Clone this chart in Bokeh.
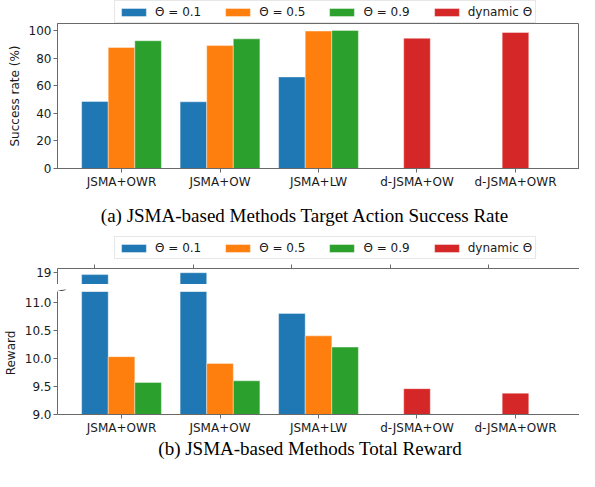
import numpy as np
from bokeh.plotting import figure
from bokeh.models import (ColumnDataSource, Range1d, FixedTicker, Legend,
                          LegendItem, PrintfTickFormatter, Span)
from bokeh.core.properties import value
from bokeh.layouts import column
from bokeh.transform import dodge
from bokeh.embed import file_html
from bokeh.resources import INLINE

# ---------------- data ----------------
categories = ["JSMA+OWR", "JSMA+OW", "JSMA+LW", "d-JSMA+OW", "d-JSMA+OWR"]
series_labels = ["Θ = 0.1", "Θ = 0.5", "Θ = 0.9", "dynamic Θ"]
colors = ["#1f77b4", "#ff7f0e", "#2ca02c", "#d62728"]

success_01 = [48.5, 48.3, 66.3, None, None]
success_05 = [87.6, 89.0, 99.5, None, None]
success_09 = [92.5, 93.9, 100.0, None, None]
success_dyn = [None, None, None, 94.3, 98.5]

reward_01 = [18.96, 19.0, 10.8, None, None]
reward_05 = [10.03, 9.91, 10.40, None, None]
reward_09 = [9.57, 9.60, 10.20, None, None]
reward_dyn = [None, None, None, 9.46, 9.38]

success_ticks = [0, 20, 40, 60, 80, 100]
reward_low_ticks = [9.0, 9.5, 10.0, 10.5, 11.0]
reward_high_ticks = [19]

caption_a = "(a) JSMA-based Methods Target Action Success Rate"
caption_b = "(b) JSMA-based Methods Total Reward"

# ---------------- style ----------------
BAR_W = 0.27
OFFSETS = [-BAR_W, 0.0, BAR_W, 0.0]
SPINE = "#6a6a6a"
TEXT = "#1a1a1a"
FONT = "DejaVu Sans"
FS = "12px"
LEFT = 48
RIGHT = 0
FRAME_W = 531
TOTAL_W = LEFT + FRAME_W + RIGHT
X_RANGE = (-0.65, 4.65)


def arr(v):
    return np.array([np.nan if a is None else a for a in v], dtype=float)


xpos = np.arange(len(categories), dtype=float)
label_map = {int(i): c for i, c in enumerate(categories)}


def style_axis(ax, ticks=None):
    ax.axis_line_color = SPINE
    ax.axis_line_width = 1
    ax.major_tick_line_color = SPINE
    ax.minor_tick_line_color = None
    ax.major_tick_out = 4
    ax.major_tick_in = 0
    ax.major_label_text_font = FONT
    ax.major_label_text_font_size = FS
    ax.major_label_text_color = TEXT
    ax.major_label_standoff = 2
    ax.axis_label_text_font = FONT
    ax.axis_label_text_font_size = FS
    ax.axis_label_text_font_style = "normal"
    ax.axis_label_text_color = TEXT
    ax.axis_label_standoff = 4
    if ticks is not None:
        ax.ticker = FixedTicker(ticks=ticks)


def bar_style(col):
    return dict(fill_color=col, line_color="white", line_alpha=0.5, line_width=0.8)


def add_bars(p, src, keys):
    for k, off, col in zip(keys, OFFSETS, colors):
        p.vbar(x=dodge("x", off), top=k, bottom=0, width=BAR_W, source=src, **bar_style(col))


def fig(height, xr, yr, mbt=0, mbb=0, x_loc=None, y_loc=None):
    p = figure(width=TOTAL_W, height=height, min_border_left=LEFT,
               min_border_right=RIGHT, min_border_top=mbt, min_border_bottom=mbb,
               x_range=Range1d(*xr), y_range=Range1d(*yr),
               x_axis_location=x_loc, y_axis_location=y_loc,
               output_backend="svg", toolbar_location=None)
    p.grid.visible = False
    p.outline_line_color = None
    p.background_fill_color = "white"
    p.border_fill_color = "white"
    return p


def legend_fig(height, box_left, box_bottom):
    p = fig(height, (0, FRAME_W), (0, height))
    rs = [p.vbar(x=[np.nan], top=[np.nan], width=1, **bar_style(c)) for c in colors]
    items = [LegendItem(label=l, renderers=[r]) for l, r in zip(series_labels, rs)]
    lg = Legend(items=items, orientation="horizontal", location=(box_left, box_bottom),
                glyph_width=31, glyph_height=10, label_standoff=6, spacing=21,
                padding=3, margin=0, label_height=15,
                label_text_font=FONT, label_text_font_size=FS, label_text_color=TEXT,
                border_line_color="#d0d0d0", border_line_width=1,
                background_fill_color="white", background_fill_alpha=1.0)
    p.add_layout(lg, "center")
    return p


def caption_fig(height, text, cx, cy):
    p = fig(height, (0, FRAME_W), (0, height))
    src = ColumnDataSource(dict(x=[cx], y=[cy], t=[text]))
    p.text(x="x", y="y", text="t", source=src, text_font=value("Liberation Serif"),
           text_font_size=value("19px"), text_color="black",
           text_align="center", text_baseline="middle")
    return p


def chart(height, yr, mbt, mbb, x_loc="below"):
    return fig(height, X_RANGE, yr, mbt, mbb, x_loc=x_loc, y_loc="left")


def right_spine(p):
    p.add_layout(Span(location=X_RANGE[1], dimension="height",
                      line_color=SPINE, line_width=1))


# ---------------- (a) success rate ----------------
legA = legend_fig(23, 57, 0)

src_a = ColumnDataSource(dict(x=xpos, a=arr(success_01), b=arr(success_05),
                              c=arr(success_09), d=arr(success_dyn)))
pa = chart(169, (0, 105), 0, 24)
pa.outline_line_color = SPINE
add_bars(pa, src_a, ["a", "b", "c", "d"])
style_axis(pa.yaxis[0], success_ticks)
pa.yaxis[0].axis_label = "Success rate (%)"
style_axis(pa.xaxis[0], list(xpos))
pa.xaxis[0].major_label_overrides = label_map

capA = caption_fig(40, caption_a, 252, 17)

# ---------------- (b) reward ----------------
legB = legend_fig(28, 57, 1)

src_b = ColumnDataSource(dict(x=xpos, a=arr(reward_01), b=arr(reward_05),
                              c=arr(reward_09), d=arr(reward_dyn)))
pb1 = chart(24, (18.75, 19.09), 5, 0, x_loc="above")
add_bars(pb1, src_b, ["a", "b", "c", "d"])
style_axis(pb1.yaxis[0], reward_high_ticks)
top_ticks = [float(v) for v in (xpos + OFFSETS[0])]
style_axis(pb1.xaxis[0], top_ticks)
pb1.xaxis[0].major_label_overrides = {t: " " for t in top_ticks}
pb1.xaxis[0].major_label_standoff = 0
pb1.xaxis[0].major_label_text_font_size = "1px"
right_spine(pb1)

# gap between the two parts of the broken axis, with the break marks
GAP_H = 7
gap = fig(GAP_H, (0, FRAME_W), (0, GAP_H))
edges = [0, FRAME_W]
dx, dy = 8.5, 2.0
for cy in (5.0, 2.0):
    gap.segment(x0=[e - dx for e in edges], y0=[cy - dy] * 2,
                x1=[e + dx for e in edges], y1=[cy + dy] * 2,
                line_color="#333333", line_width=1)

pb2 = chart(146, (9.0, 11.19), 0, 22)
add_bars(pb2, src_b, ["a", "b", "c", "d"])
style_axis(pb2.yaxis[0], reward_low_ticks)
pb2.yaxis[0].formatter = PrintfTickFormatter(format="%.1f")
pb2.yaxis[0].axis_label = "Reward"
style_axis(pb2.xaxis[0], list(xpos))
pb2.xaxis[0].major_label_overrides = label_map
right_spine(pb2)

capB = caption_fig(22, caption_b, 257, 11)

layout = column(legA, pa, capA, legB, pb1, gap, pb2, capB, spacing=0)
open("out.html", "w").write(file_html(layout, INLINE))
